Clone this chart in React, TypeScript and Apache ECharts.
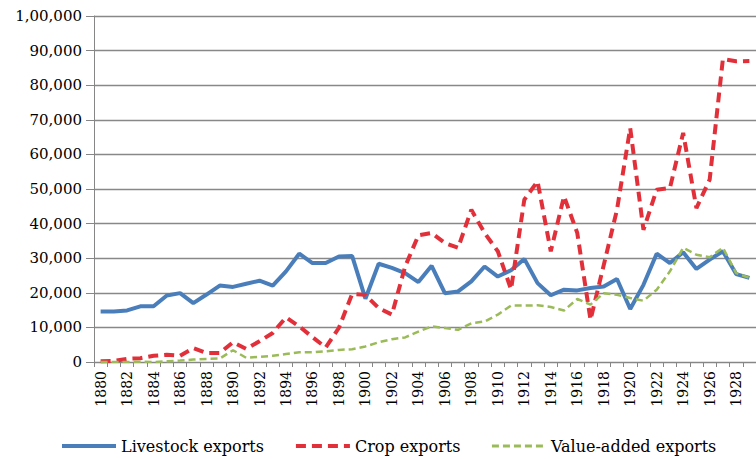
import React, { useEffect, useRef } from "react";
import * as echarts from "echarts";

const years: string[] = [];
for (let y = 1880; y <= 1929; y++) years.push(String(y));

const livestock = [
  14600, 14600, 14900, 16100, 16100, 19200, 19900, 17000, 19500, 22100,
  21700, 22600, 23500, 22100, 26200, 31300, 28600, 28600, 30500, 30600,
  18300, 28400, 27200, 25700, 23100, 27800, 19900, 20400, 23300, 27600,
  24700, 26500, 29800, 22800, 19300, 20900, 20700, 21400, 21800, 24000,
  15300, 22300, 31300, 28600, 31700, 26900, 29600, 32000, 25400, 24300,
];

const crop = [
  200, 300, 900, 1100, 1800, 2100, 1800, 4000, 2600, 2600,
  5700, 3800, 6000, 8400, 12900, 10300, 7200, 4200, 9900, 19700,
  19400, 15600, 13700, 27600, 36600, 37300, 34400, 33000, 44000, 37300,
  32000, 21000, 46900, 52200, 32000, 47900, 37300, 12200, 28000, 44000,
  67600, 38200, 49800, 50300, 66200, 44500, 52700, 87600, 86900, 87000,
];

const valueAdded = [
  0, 0, 0, 100, 0, 200, 400, 700, 900, 1000,
  3400, 1200, 1500, 1800, 2300, 2800, 2800, 3100, 3500, 3700,
  4500, 5700, 6600, 7100, 8800, 10300, 9800, 9300, 11200, 11700,
  13700, 16300, 16300, 16400, 15900, 14900, 18200, 16600, 19900, 19400,
  18500, 17700, 20900, 26200, 33000, 31000, 30300, 33000, 25700, 24300,
];

const seriesNames = ["Livestock exports", "Crop exports", "Value-added exports"];

function indianFormat(v: number): string {
  const s = String(Math.round(v));
  if (s.length <= 3) return s;
  const last3 = s.slice(-3);
  let rest = s.slice(0, -3);
  const parts: string[] = [];
  while (rest.length > 2) {
    parts.unshift(rest.slice(-2));
    rest = rest.slice(0, -2);
  }
  if (rest.length) parts.unshift(rest);
  return parts.join(",") + "," + last3;
}

const FONT = "DejaVu Serif";

export default function App() {
  const ref = useRef<HTMLDivElement>(null);
  useEffect(() => {
    if (!ref.current) return;
    const chart = echarts.init(ref.current, null, { renderer: "svg" });
    chart.setOption({
      animation: false,
      backgroundColor: "#ffffff",
      grid: { left: 94, right: -4, top: 16, bottom: 97, containLabel: false },
      xAxis: {
        type: "category",
        data: years,
        boundaryGap: true,
        axisLine: { lineStyle: { color: "#868686", width: 1 } },
        axisTick: { show: true, interval: 0, length: 5, lineStyle: { color: "#868686" } },
        axisLabel: {
          interval: 1,
          rotate: 90,
          margin: 9,
          color: "#000",
          fontFamily: FONT,
          fontSize: 14,
        },
      },
      yAxis: {
        type: "value",
        min: 0,
        max: 100000,
        interval: 10000,
        axisLine: { show: true, lineStyle: { color: "#868686", width: 1 } },
        axisTick: { show: true, inside: false, length: 8, lineStyle: { color: "#868686" } },
        splitLine: { show: true, lineStyle: { color: "#888888", width: 1.3 } },
        axisLabel: {
          formatter: (v: number) => indianFormat(v),
          color: "#000",
          fontFamily: FONT,
          fontSize: 15,
          margin: 12,
        },
      },
      legend: {
        bottom: 0,
        left: 55,
        itemWidth: 54,
        itemHeight: 12,
        itemGap: 30,
        itemStyle: { opacity: 0 },
        textStyle: { fontFamily: FONT, fontSize: 16, color: "#000" },
        data: [
          { name: seriesNames[0], lineStyle: { width: 4, color: "#4A7EBB", type: "solid" } },
          { name: seriesNames[1], lineStyle: { width: 4, color: "#E2303A", type: [10, 6] } },
          { name: seriesNames[2], lineStyle: { width: 3, color: "#9BBB59", type: [7, 4] } },
        ],
      },
      series: [
        {
          name: seriesNames[0],
          type: "line",
          data: livestock,
          showSymbol: false,
          symbol: "none",
          lineStyle: { color: "#4A7EBB", width: 4, type: "solid" },
          itemStyle: { color: "#4A7EBB" },
        },
        {
          name: seriesNames[1],
          type: "line",
          data: crop,
          showSymbol: false,
          symbol: "none",
          lineStyle: { color: "#E2303A", width: 4, type: [10, 6] },
          itemStyle: { color: "#E2303A" },
        },
        {
          name: seriesNames[2],
          type: "line",
          data: valueAdded,
          showSymbol: false,
          symbol: "none",
          lineStyle: { color: "#9BBB59", width: 2.5, type: [7, 4] },
          itemStyle: { color: "#9BBB59" },
        },
      ],
    });
    return () => chart.dispose();
  }, []);
  return (
    <div
      ref={ref}
      style={{ position: "absolute", left: 0, top: 0, width: 756, height: 459 }}
    />
  );
}
